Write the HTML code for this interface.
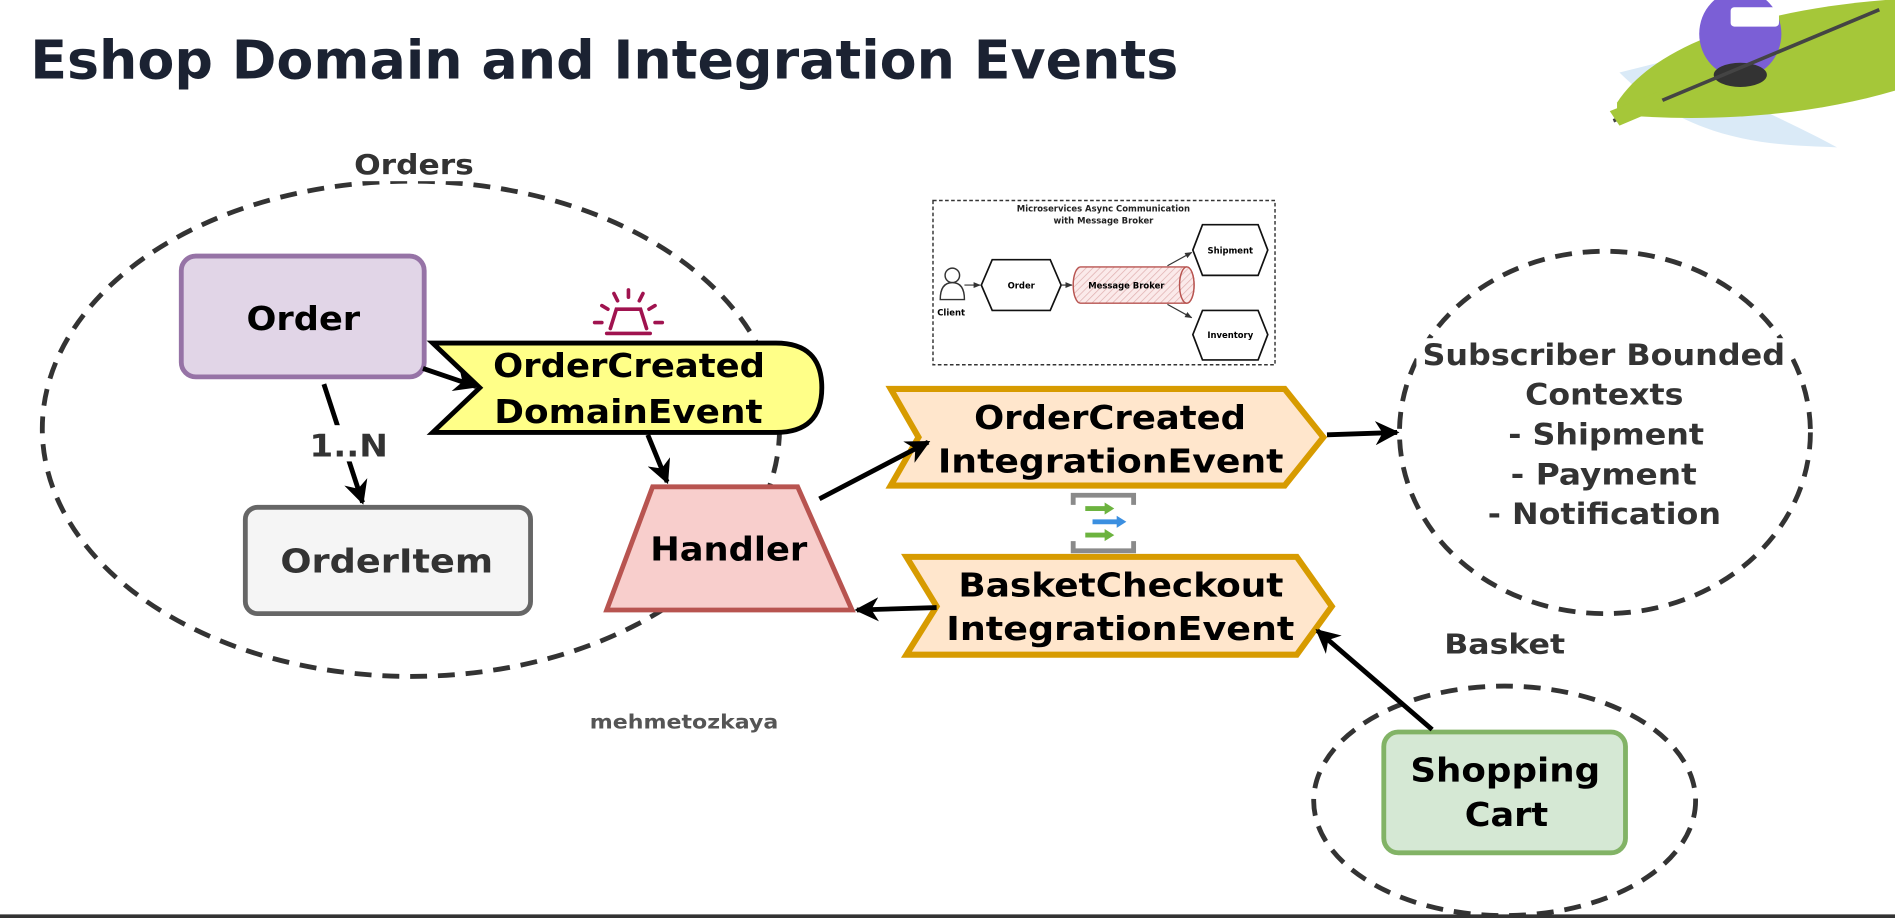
<!DOCTYPE html>
<html><head><meta charset="utf-8"><style>
html,body{margin:0;padding:0;background:#fff;width:1895px;height:918px;overflow:hidden}
svg{display:block}
text{font-family:"DejaVu Sans","Liberation Sans",sans-serif;font-weight:bold}
</style></head><body>
<svg width="1895" height="918" viewBox="0 0 1568 760" preserveAspectRatio="none" xmlns="http://www.w3.org/2000/svg">
<defs>
<marker id="ar" viewBox="0 0 10 10" refX="9" refY="5" markerWidth="5" markerHeight="5" orient="auto"><path d="M0,0 L10,5 L0,10 L3,5 z" fill="#000"/></marker>
<marker id="ar2" viewBox="0 0 10 10" refX="9" refY="5" markerWidth="6" markerHeight="6" orient="auto"><path d="M0,1 L10,5 L0,9 z" fill="#333"/></marker>
<pattern id="hatch" width="4" height="4" patternUnits="userSpaceOnUse" patternTransform="rotate(45)"><rect width="4" height="4" fill="#fbeaea"/><line x1="0" y1="0" x2="0" y2="4" stroke="#e0b0b0" stroke-width="1.2"/></pattern>
</defs>
<rect width="1568" height="760" fill="#fff"/>
<text x="25" y="65" font-size="44" fill="#1b2232" textLength="950" lengthAdjust="spacingAndGlyphs">Eshop Domain and Integration Events</text>

<!-- mascot approx -->
<g>
<path d="M1340,60 C1400,120 1470,120 1520,122 C1480,100 1430,80 1380,50 z" fill="#d6e8f6" opacity="0.9"/>
<path d="M1338,85 C1370,35 1460,8 1560,0 L1568,0 L1568,75 C1500,95 1420,102 1338,95 z" fill="#a5c739"/>
<ellipse cx="1440" cy="28" rx="34" ry="36" fill="#7b5fd6"/>
<ellipse cx="1440" cy="62" rx="22" ry="10" fill="#333"/>
<rect x="1432" y="6" width="40" height="16" rx="3" fill="#fff"/>
<line x1="1335" y1="100" x2="1555" y2="8" stroke="#444" stroke-width="3"/>
<path d="M1332,92 L1372,76 L1378,88 L1340,104 z" fill="#a5c739"/>
</g>

<!-- Orders ellipse -->
<ellipse cx="340" cy="355" rx="305" ry="205" fill="none" stroke="#333" stroke-width="4" stroke-dasharray="14,9"/>
<rect x="288" y="120" width="110" height="30" fill="#fff"/>
<text x="293" y="144" font-size="23" fill="#333" textLength="99" lengthAdjust="spacingAndGlyphs">Orders</text>

<!-- Order -->
<rect x="150" y="212" width="201" height="100" rx="12" fill="#e1d5e7" stroke="#9673a6" stroke-width="4"/>
<text x="204" y="273" font-size="27" textLength="94" lengthAdjust="spacingAndGlyphs">Order</text>

<!-- OrderItem -->
<rect x="203" y="420" width="236" height="88" rx="10" fill="#f5f5f5" stroke="#666" stroke-width="4"/>
<text x="232" y="474" font-size="27" fill="#333" textLength="176" lengthAdjust="spacingAndGlyphs">OrderItem</text>
<line x1="268" y1="318" x2="300" y2="416" stroke="#000" stroke-width="4" marker-end="url(#ar)"/>
<rect x="254" y="352" width="70" height="30" fill="#fff"/>
<text x="256" y="378" font-size="26" fill="#333" textLength="65" lengthAdjust="spacingAndGlyphs">1..N</text>

<!-- alarm icon -->
<g stroke="#a0134f" stroke-width="3" fill="none" stroke-linecap="round">
<path d="M505,272 L510,256 L530,256 L535,272"/>
<path d="M502,276 L538,276"/>
<line x1="520" y1="240" x2="520" y2="246"/><line x1="508" y1="243" x2="511" y2="249"/><line x1="532" y1="243" x2="529" y2="249"/>
<line x1="498" y1="253" x2="503" y2="256"/><line x1="542" y1="253" x2="537" y2="256"/>
<line x1="492" y1="267" x2="498" y2="267"/><line x1="542" y1="267" x2="548" y2="267"/>
</g>

<!-- Domain event -->
<path d="M358,284 L642,284 Q680,284 680,321 Q680,358 642,358 L358,358 L397,321 z" fill="#ffff88" stroke="#000" stroke-width="4"/>
<text x="408" y="312" font-size="27" textLength="225" lengthAdjust="spacingAndGlyphs">OrderCreated</text>
<text x="409" y="350" font-size="27" textLength="222" lengthAdjust="spacingAndGlyphs">DomainEvent</text>
<line x1="350" y1="305" x2="394" y2="320" stroke="#000" stroke-width="4" marker-end="url(#ar)"/>
<line x1="536" y1="360" x2="552" y2="399" stroke="#000" stroke-width="4" marker-end="url(#ar)"/>

<!-- Handler -->
<path d="M540,403 L660,403 L705,505 L502,505 z" fill="#f8cecc" stroke="#b85450" stroke-width="4"/>
<text x="538" y="464" font-size="27" textLength="130" lengthAdjust="spacingAndGlyphs">Handler</text>

<!-- IE1 -->
<path d="M737,322 L1063,322 L1095,362 L1063,402 L737,402 L760,362 z" fill="#ffe6cc" stroke="#d79b00" stroke-width="5"/>
<text x="806" y="355" font-size="27" textLength="225" lengthAdjust="spacingAndGlyphs">OrderCreated</text>
<text x="776" y="391" font-size="27" textLength="286" lengthAdjust="spacingAndGlyphs">IntegrationEvent</text>
<line x1="678" y1="413" x2="768" y2="366" stroke="#000" stroke-width="4" marker-end="url(#ar)"/>
<line x1="1098" y1="360" x2="1156" y2="358" stroke="#000" stroke-width="4" marker-end="url(#ar)"/>

<!-- event grid icon -->
<g>
<path d="M888,418 L888,410 L938,410 L938,418" fill="none" stroke="#8a8a8a" stroke-width="4"/>
<path d="M888,448 L888,456 L938,456 L938,448" fill="none" stroke="#8a8a8a" stroke-width="4"/>
<line x1="898" y1="421" x2="916" y2="421" stroke="#6cb33f" stroke-width="4"/><path d="M914,416 L922,421 L914,426 z" fill="#6cb33f"/>
<line x1="904" y1="432" x2="926" y2="432" stroke="#3b8fe0" stroke-width="4"/><path d="M924,427 L932,432 L924,437 z" fill="#3b8fe0"/>
<line x1="898" y1="443" x2="916" y2="443" stroke="#6cb33f" stroke-width="4"/><path d="M914,438 L922,443 L914,448 z" fill="#6cb33f"/>
</g>

<!-- IE2 -->
<path d="M750,461 L1073,461 L1102,502 L1073,542 L750,542 L775,502 z" fill="#ffe6cc" stroke="#d79b00" stroke-width="5"/>
<text x="793" y="494" font-size="27" textLength="269" lengthAdjust="spacingAndGlyphs">BasketCheckout</text>
<text x="783" y="530" font-size="27" textLength="288" lengthAdjust="spacingAndGlyphs">IntegrationEvent</text>
<line x1="775" y1="503" x2="709" y2="505" stroke="#000" stroke-width="4" marker-end="url(#ar)"/>

<!-- Subscriber -->
<ellipse cx="1328" cy="358" rx="170" ry="150" fill="none" stroke="#333" stroke-width="4" stroke-dasharray="14,9"/>
<rect x="1172" y="280" width="310" height="28" fill="#fff"/>
<g font-size="24" fill="#333">
<text x="1177" y="302" textLength="300" lengthAdjust="spacingAndGlyphs">Subscriber Bounded</text>
<text x="1262" y="335" textLength="131" lengthAdjust="spacingAndGlyphs">Contexts</text>
<text x="1248" y="368" textLength="162" lengthAdjust="spacingAndGlyphs">- Shipment</text>
<text x="1250" y="401" textLength="154" lengthAdjust="spacingAndGlyphs">- Payment</text>
<text x="1231" y="434" textLength="193" lengthAdjust="spacingAndGlyphs">- Notification</text>
</g>

<!-- Basket -->
<ellipse cx="1245" cy="663" rx="158" ry="95" fill="none" stroke="#333" stroke-width="4" stroke-dasharray="14,9"/>
<text x="1195" y="541" font-size="23" fill="#333" textLength="100" lengthAdjust="spacingAndGlyphs">Basket</text>
<rect x="1145" y="606" width="200" height="100" rx="12" fill="#d5e8d4" stroke="#82b366" stroke-width="4"/>
<text x="1167" y="647" font-size="27" textLength="157" lengthAdjust="spacingAndGlyphs">Shopping</text>
<text x="1212" y="684" font-size="27" textLength="69" lengthAdjust="spacingAndGlyphs">Cart</text>
<line x1="1185" y1="604" x2="1090" y2="522" stroke="#000" stroke-width="4" marker-end="url(#ar)"/>

<text x="488" y="603" font-size="16" fill="#555" textLength="156" lengthAdjust="spacingAndGlyphs">mehmetozkaya</text>

<!-- small diagram -->
<g>
<rect x="772" y="166" width="283" height="136" fill="#fff" stroke="#333" stroke-width="1.2" stroke-dasharray="3,2"/>
<text x="913" y="175" font-size="7" text-anchor="middle" fill="#222">Microservices Async Communication</text>
<text x="913" y="185" font-size="7" text-anchor="middle" fill="#222">with Message Broker</text>
<circle cx="788" cy="228" r="6" fill="#fff" stroke="#333" stroke-width="1.2"/>
<path d="M778,248 Q778,234 788,234 Q798,234 798,248 z" fill="#fff" stroke="#333" stroke-width="1.2"/>
<text x="787" y="261" font-size="7" text-anchor="middle">Client</text>
<line x1="798" y1="236" x2="811" y2="236" stroke="#333" stroke-width="1" marker-end="url(#ar2)"/>
<path d="M821,215 L869,215 L878,236 L869,257 L821,257 L812,236 z" fill="#fff" stroke="#111" stroke-width="1.4"/>
<text x="845" y="239" font-size="7" text-anchor="middle">Order</text>
<line x1="878" y1="236" x2="887" y2="236" stroke="#333" stroke-width="1" marker-end="url(#ar2)"/>
<path d="M894,221 L982,221 A6,15 0 0 1 982,251 L894,251 A6,15 0 0 1 894,221 z" fill="url(#hatch)" stroke="#b85450" stroke-width="1.2"/>
<ellipse cx="982" cy="236" rx="6" ry="15" fill="url(#hatch)" stroke="#b85450" stroke-width="1.2"/>
<text x="932" y="239" font-size="7" text-anchor="middle">Message Broker</text>
<line x1="966" y1="220" x2="986" y2="209" stroke="#333" stroke-width="1" marker-end="url(#ar2)"/>
<line x1="966" y1="252" x2="986" y2="263" stroke="#333" stroke-width="1" marker-end="url(#ar2)"/>
<path d="M995,186 L1041,186 L1049,207 L1041,228 L995,228 L987,207 z" fill="#fff" stroke="#111" stroke-width="1.4"/>
<text x="1018" y="210" font-size="7" text-anchor="middle">Shipment</text>
<path d="M995,257 L1041,257 L1049,277 L1041,298 L995,298 L987,277 z" fill="#fff" stroke="#111" stroke-width="1.4"/>
<text x="1018" y="280" font-size="7" text-anchor="middle">Inventory</text>
</g>

<rect x="0" y="757" width="1568" height="3" fill="#333"/>
</svg>
</body></html>
